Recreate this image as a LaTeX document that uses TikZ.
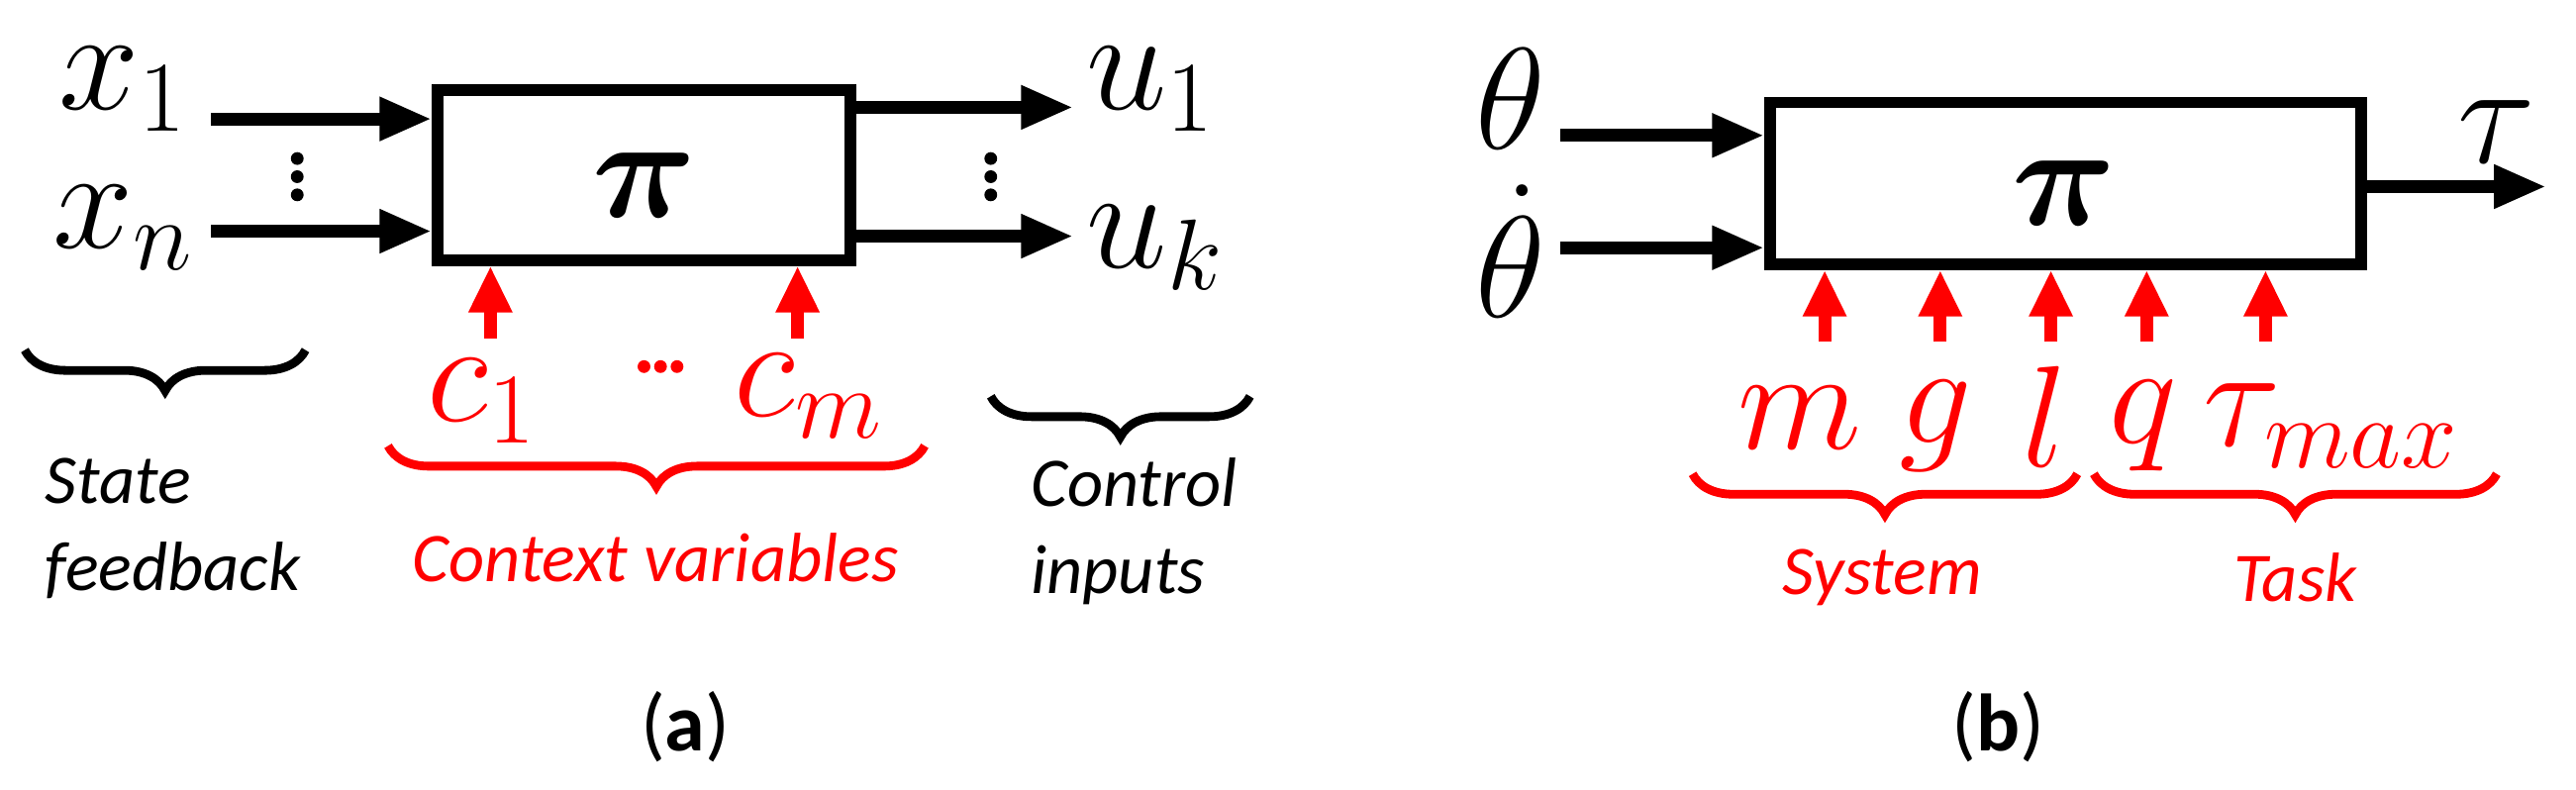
\documentclass[tikz,border=0pt]{standalone}
\usepackage{fontspec}
\usepackage{amsmath,bm}
\setmainfont{Carlito}
\usetikzlibrary{decorations.pathreplacing,arrows.meta}
\begin{document}
\begin{tikzpicture}[x=0.01cm,y=-0.01cm,
  blk/.style={draw,line width=2pt},
  arr/.style={line width=2.2pt,-{Triangle[length=9pt,width=7pt]}},
  rarr/.style={red,line width=2.2pt,-{Triangle[length=8pt,width=7pt]}},
  m/.style={font=\fontsize{26}{30}\selectfont},
  rm/.style={m,red},
  pi/.style={font=\fontsize{125}{130}\selectfont,inner sep=0pt},
  dot/.style={circle,fill,inner sep=0pt,minimum size=2.2pt},
  lab/.style={font=\fontsize{12}{15}\selectfont\itshape,align=left},
  br/.style={decorate,decoration={brace,mirror,amplitude=7pt},line width=1.5pt}]
\useasboundingbox (0,0) rectangle (1560,478);
% (a)
\node[blk,minimum width=250*0.01cm,minimum height=103*0.01cm] (pa) at (390,106) {};
\node[pi] (pia) at (390,112) {$\bm{\pi}$};
\node[m] (x1) at (75,54) {$x_1$};
\node[m] (xn) at (75,138) {$x_n$};
\coordinate (a1) at (128,72); \coordinate (a2) at (128,140);
\draw[arr] (a1) -- (a1 -| pa.west);
\draw[arr] (a2) -- (a2 -| pa.west);
\foreach \yy in {96,107,118}{\node[dot] at (180,\yy) {};}
\coordinate (o1) at (650,65); \coordinate (o2) at (650,143);
\draw[arr] (o1 -| pa.east) -- (o1);
\draw[arr] (o2 -| pa.east) -- (o2);
\foreach \yy in {96,107,118}{\node[dot] at (600,\yy) {};}
\node[m] (u1) at (697,54) {$u_1$};
\node[m] (uk) at (700,150) {$u_k$};
\coordinate (c1b) at (297,205); \coordinate (cmb) at (483,205);
\draw[rarr] (c1b) -- (c1b |- pa.south);
\draw[rarr] (cmb) -- (cmb |- pa.south);
\node[rm] (c1) at (292,243) {$c_1$};
\foreach \xx in {390,400,410}{\node[dot,red] at (\xx,222) {};}
\node[rm] (cm) at (490,240) {$c_m$};
\draw[br] (15,212) -- (185,212);
\node[lab,anchor=north west] (sf) at (15,265) {State\\feedback};
\draw[br,red] (235,270) -- (560,270);
\node[lab,red] (cv) at (397,338) {Context variables};
\draw[br] (600,240) -- (757,240);
\node[lab,anchor=north west] (ci) at (612,265) {Control\\inputs};
\node[font=\fontsize{14}{16}\selectfont] (la2) at (415,440) {(\textbf{a})};
% (b)
\node[blk,minimum width=358*0.01cm,minimum height=98*0.01cm] (pb) at (1251,111) {};
\node[pi] (pib) at (1250,117) {$\bm{\pi}$};
\node[m] (th) at (915,60) {$\theta$};
\node[m] (thd) at (915,152) {$\dot\theta$};
\coordinate (b1) at (945,82); \coordinate (b2) at (945,150);
\draw[arr] (b1) -- (b1 -| pb.west);
\draw[arr] (b2) -- (b2 -| pb.west);
\coordinate (tout) at (1542,113);
\draw[arr] (tout -| pb.east) -- (tout);
\node[m] (tau) at (1512,80) {$\tau$};
\foreach \xx/\nm in {1105/pm,1175/pg,1242/pl,1300/pq,1372/pt}{
  \coordinate (\nm) at (\xx,207);
  \draw[rarr] (\nm) -- (\nm |- pb.south);}
\node[rm] (mm) at (1090,253) {$m$};
\node[rm] (gg) at (1172,258) {$g$};
\node[rm] (ll) at (1238,252) {$l$};
\node[rm] (qq) at (1298,258) {$q$};
\node[rm] (tm) at (1412,258) {$\tau_{max}$};
\draw[br,red] (1025,287) -- (1258,287);
\draw[br,red] (1268,287) -- (1512,287);
\node[lab,red] (sys) at (1140,350) {System};
\node[lab,red] (task) at (1390,350) {Task};
\node[font=\fontsize{14}{16}\selectfont] (lb) at (1210,440) {(\textbf{b})};
\end{tikzpicture}
\end{document}
